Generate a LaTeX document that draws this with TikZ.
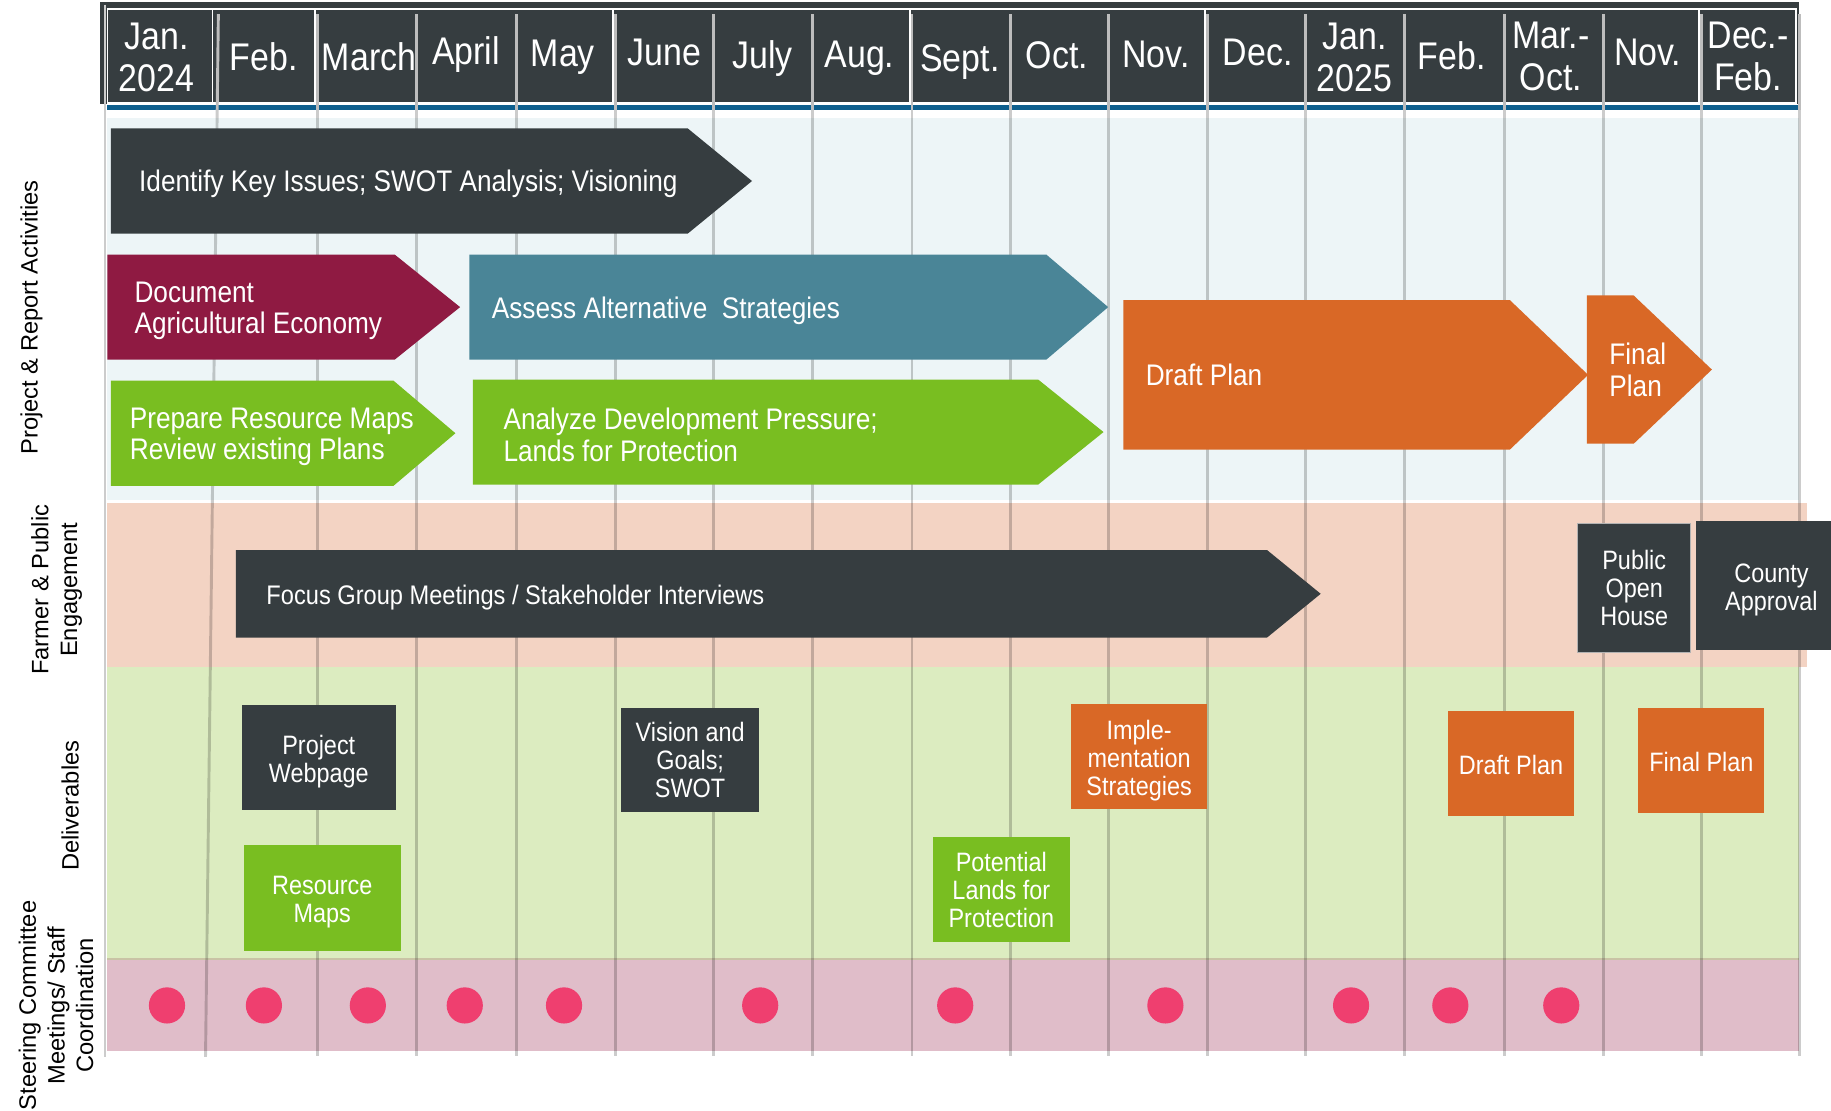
\documentclass[tikz,border=0pt]{standalone}
\usepackage{fontspec}
\setmainfont{Liberation Sans}
\newfontfamily\narrowfont[FakeStretch=0.88]{Liberation Sans}
\usetikzlibrary{shapes.geometric}
\definecolor{hdark}{HTML}{363D40}
\definecolor{maroon}{HTML}{8F1A42}
\definecolor{tealb}{HTML}{4A8597}
\definecolor{lgreen}{HTML}{79BE21}
\definecolor{orng}{HTML}{D96826}
\definecolor{dotpink}{HTML}{EF3F6F}
\definecolor{laneblue}{HTML}{EDF5F7}
\definecolor{lanepeach}{HTML}{F3D3C3}
\definecolor{lanegreen}{HTML}{DCECC0}
\definecolor{lanepink}{HTML}{E0BDC9}
\definecolor{hblue}{HTML}{0E5F8E}
\definecolor{gridgrey}{HTML}{BDBDBD}
\definecolor{sepline}{HTML}{C9C3A5}
\newcommand\chevron[6]{\fill[#1] (#2,#3) -- (#4,#3) -- (#6,{(#3+#5)/2}) -- (#4,#5) -- (#2,#5) -- cycle;}
\newcommand\up[1]{\rule{0pt}{#1pt}}
\tikzset{
  month/.style={text=white, font=\narrowfont\fontsize{33}{36}\selectfont, align=center, inner sep=0pt},
  acttext/.style={text=white, font=\narrowfont\fontsize{25.5}{27}\selectfont, align=left, inner sep=0pt, anchor=west},
  boxtext/.style={text=white, font=\narrowfont\fontsize{22.8}{24}\selectfont, align=center, inner sep=0pt},
  lanelabel/.style={text=black, font=\fontsize{20.3}{24.5}\selectfont, align=center, rotate=90, inner sep=0pt},
  meeting/.style={circle, fill=dotpink, minimum size=31pt, inner sep=0pt},
  hgrid/.style={gridgrey, line width=2.5pt},
  bgrid/.style={black, opacity=0.2, line width=2.5pt},
  hwhite/.style={white, line width=1.5pt}
}
\begin{document}
\begin{tikzpicture}[x=1pt,y=-1pt]
\useasboundingbox (0,0) rectangle (1568,951);
\fill[white] (0,0) rectangle (1568,951);
% header
\fill[hdark] (86,2) rectangle (1541,89);
\draw[hwhite] (92,7.5) -- (1539,7.5);
\draw[hwhite] (92,88) -- (1539,88);
\foreach \x in {92,182,270,525,779,1032,1455,1538}
  \draw[hwhite] (\x,7.5) -- (\x,88);
\fill[hblue] (92,89.5) rectangle (1541,94);
% lanes
\fill[laneblue] (92,101) rectangle (1541,428);
\fill[lanepeach] (92,431) rectangle (1547,571);
\fill[lanegreen] (92,571) rectangle (1541,820);
\fill[sepline] (92,820) rectangle (1541,822.5);
\fill[lanepink] (92,822.5) rectangle (1541,900);
\draw[black!20, line width=1.2pt] (90,4) -- (90,905);
% grid lines
\foreach \x in {272,357,442,527,611,696,781,865,949,1034,1118,1203,1288,1373,1457,1541}{
  \draw[hgrid] (\x,12) -- (\x,94);
  \draw[bgrid] (\x,94) -- (\x,904);
}
\draw[hgrid] (187,12) -- (186,94);
\draw[bgrid] (186,94) -- (176,905);
% month labels
\node[month] (mJan24) at (134,49) {Jan.\\2024};
\node[month] (mFeb24) at (226,49) {Feb.};
\node[month] (mMar24) at (316,49) {March};
\node[month] (mApr24) at (399,47) {April};
\node[month] (mMay24) at (482,49) {May};
\node[month] (mJun24) at (569,45) {June};
\node[month] (mJul24) at (653,50) {July};
\node[month] (mAug24) at (736,50) {Aug.};
\node[month] (mSep24) at (822,53) {Sept.};
\node[month] (mOct24) at (905,47) {Oct.};
\node[month] (mNov24) at (990,47) {Nov.};
\node[month] (mDec24) at (1077,45) {Dec.};
\node[month] (mJan25) at (1160,49) {Jan.\\2025};
\node[month] (mFeb25) at (1243,48) {Feb.};
\node[month] (mMarOct) at (1328,48) {Mar.-\\Oct.};
\node[month] (mNov25) at (1411,45) {Nov.};
\node[month] (mDecFeb) at (1497,48) {Dec.-\\Feb.};
% lane labels
\node[lanelabel] (labProject) at (27,272) {Project \& Report Activities};
\node[lanelabel] (labFarmer) at (48.5,505) {Farmer \& Public\\Engagement};
\node[lanelabel] (labDeliv) at (60,690) {Deliverables};
\node[lanelabel] (labSteer) at (48,861) {Steering Committee\\Meetings/ Staff\\Coordination};
% activity chevrons
\chevron{hdark}{95}{110}{589}{200}{644}
\chevron{maroon}{92}{218}{338}{308}{394}
\chevron{tealb}{402}{218}{896}{308}{949}
\chevron{lgreen}{95}{326}{337}{416}{390}
\chevron{lgreen}{405}{325}{889}{415}{945}
\chevron{orng}{962}{257}{1293}{385}{1360}
\chevron{orng}{1359}{253}{1399}{380}{1466}
\chevron{hdark}{202}{471}{1085}{546}{1131}
\node[acttext] (tIdentify) at (119,157.5) {Identify Key Issues; SWOT Analysis; Visioning};
\node[acttext] (tDocument) at (115,266) {Document\\Agricultural Economy};
\node[acttext] (tAssess) at (421,266.5) {Assess Alternative\ \ Strategies};
\node[acttext] (tPrepare) at (111,374) {Prepare Resource Maps\\Review existing Plans};
\node[acttext] (tAnalyze) at (431,372.5) {Analyze Development Pressure;\\Lands for Protection};
\node[acttext] (tDraft) at (981,321) {Draft Plan};
\node[acttext] (tFinal) at (1378,316.5) {Final\\Plan};
\node[acttext, font=\narrowfont\fontsize{23}{25}\selectfont] (tFocus) at (228,512) {Focus Group Meetings / Stakeholder Interviews};
% engagement boxes
\node[boxtext, fill=hdark, draw=black!30, line width=0.8pt, minimum width=97pt, minimum height=111pt] (bOpenHouse) at (1399.5,503.5) {Public\\Open\\House};
\node[boxtext, fill=hdark, minimum width=116pt, minimum height=111pt] (bCounty) at (1510,501.5) {\up{23}\hspace*{14pt}County\\\hspace*{14pt}Approval};
% deliverables
\node[boxtext, fill=hdark, minimum width=132pt, minimum height=90pt] (dWebpage) at (273,649) {\up{23}Project\\Webpage};
\node[boxtext, fill=lgreen, minimum width=134pt, minimum height=90pt] (dResource) at (276,769) {\up{23}Resource\\Maps};
\node[boxtext, fill=hdark, minimum width=118pt, minimum height=89pt] (dVision) at (591,650.5) {Vision and\\Goals;\\SWOT};
\node[boxtext, fill=orng, minimum width=117pt, minimum height=90pt] (dImpl) at (975.5,648) {\up{23}Imple-\\mentation\\Strategies};
\node[boxtext, fill=lgreen, minimum width=117pt, minimum height=90pt] (dLands) at (857.5,762) {Potential\\Lands for\\Protection};
\node[boxtext, fill=orng, minimum width=108pt, minimum height=90pt] (dDraft) at (1294,654) {\up{19}Draft Plan};
\node[boxtext, fill=orng, minimum width=108pt, minimum height=90pt] (dFinal) at (1457,651) {\up{19}Final Plan};
% steering meetings
\foreach \x [count=\i] in {143,226,315,398,483,651,818,998,1157,1242,1337}
  \node[meeting] (meet\i) at (\x,861) {};
\end{tikzpicture}
\end{document}
